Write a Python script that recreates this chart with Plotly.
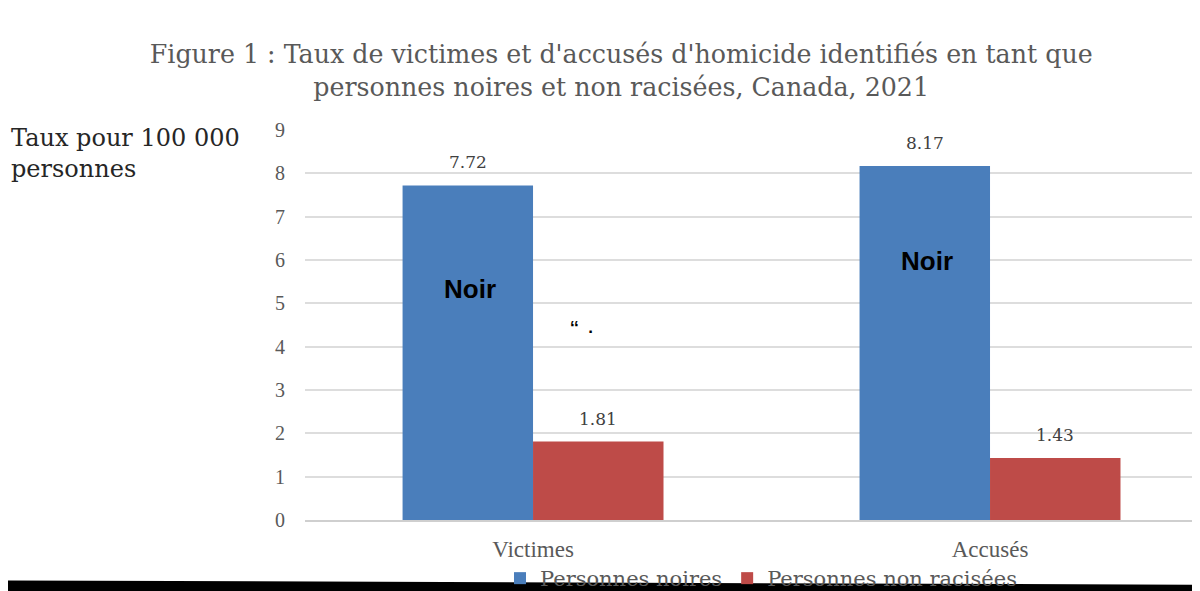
import plotly.graph_objects as go

# Data
categories = ["Victimes", "Accusés"]
series_names = ["Personnes noires", "Personnes non racisées"]
noires = [7.72, 8.17]
non_racisees = [1.81, 1.43]
colors = ["#4A7EBB", "#BE4B48"]
y_ticks = list(range(0, 10))

# "Noir" overlay labels written on the image (category, y value)
noir_labels = [("Victimes", 5.33), ("Accusés", 5.97)]

serif = "Liberation Serif"
serif2 = "DejaVu Serif"
grey = "#595959"

fig = go.Figure()
for name, vals, col in zip(series_names, [noires, non_racisees], colors):
    fig.add_trace(go.Bar(
        x=categories, y=vals, name=name,
        marker=dict(color=col, line=dict(width=0)),
        hovertemplate='%{x}: %{y}<extra>' + name + '</extra>'
    ))

# value labels above bars
for i, vals in enumerate([noires, non_racisees]):
    shift = -65 if i == 0 else 65
    for c, v in zip(categories, vals):
        fig.add_annotation(x=c, y=v, text=f"{v:.2f}", showarrow=False,
                           xshift=shift, yshift=23, yanchor="middle",
                           font=dict(family=serif2, size=17, color="#404040"))

for c, yv in noir_labels:
    fig.add_annotation(x=c, y=yv, text="<b>Noir</b>", showarrow=False,
                       xshift=-63, font=dict(family="Liberation Sans", size=26, color="black"))

# stray marks on the original image
fig.add_annotation(x="Victimes", y=4.45, text="<b>‘‘\u00a0\u00a0.</b>", showarrow=False, xshift=48,
                   font=dict(family="Liberation Sans", size=17, color="black"))

# y-axis title at top-left
fig.add_annotation(xref="paper", yref="paper", x=-0.328, y=1.02, xanchor="left", yanchor="top",
                   text="Taux pour 100 000<br>personnes", align="left", showarrow=False,
                   font=dict(family=serif2, size=24, color="#262626"))

# black strip at the bottom of the screenshot (slightly slanted)
fig.add_shape(type="path", xref="paper", yref="paper",
              path="M -0.34,-0.155 L 1.01,-0.166 L 1.01,-0.21 L -0.34,-0.21 Z",
              fillcolor="black", line=dict(width=0), layer="above")

fig.update_layout(
    width=1200, height=591,
    margin=dict(l=297, r=0, t=122, b=77),
    paper_bgcolor="white", plot_bgcolor="white",
    title=dict(text="Figure 1 : Taux de victimes et d'accusés d'homicide identifiés en tant que<br>"
                    "personnes noires et non racisées, Canada, 2021",
               x=0.511, xanchor="center", y=(591 - 55) / 591, yanchor="middle",
               font=dict(family=serif2, size=25.3, color=grey)),
    barmode="group", bargap=0.429, bargroupgap=0,
    showlegend=True,
    legend=dict(orientation="h", x=0.505, xanchor="center", y=-0.15, yanchor="middle",
                font=dict(family=serif2, size=21, color=grey), bgcolor="rgba(0,0,0,0)",
                traceorder="normal"),
    font=dict(family=serif, color=grey),
)
fig.update_xaxes(range=[-0.499, 1.477], showgrid=False, showline=True, linecolor="#CFCFCF",
                 linewidth=1.5, ticks="", ticklabelstandoff=8,
                 tickfont=dict(family=serif, size=23, color=grey))
fig.update_yaxes(range=[0, 9], tickvals=y_ticks, showgrid=True, gridcolor="#DDDDDD",
                 gridwidth=1.5, zeroline=False, ticks="", ticklabelstandoff=19,
                 tickfont=dict(family=serif, size=20, color=grey))

fig.write_html("out.html")
